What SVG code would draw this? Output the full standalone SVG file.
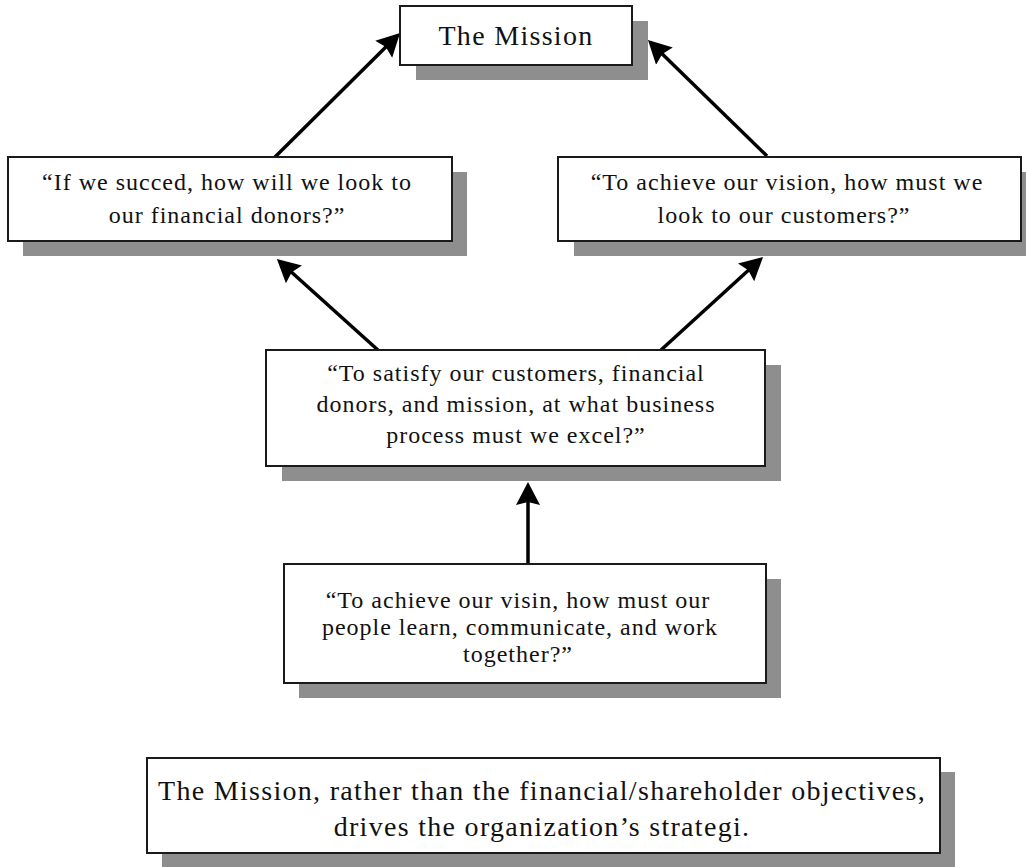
<svg xmlns="http://www.w3.org/2000/svg" width="1026" height="867" viewBox="0 0 1026 867">
  <style>
    .shadow { fill: #8e8e8e; }
    .box { fill: #ffffff; stroke: #1a1a1a; stroke-width: 2; }
    .txt { font-family: "Liberation Serif", "Times New Roman", serif; font-size: 24px; letter-spacing: 1px; fill: #111111; text-anchor: middle; }
    .big { font-size: 28px; letter-spacing: 1.3px; }
    .conn { stroke: #000000; stroke-width: 3.5; fill: none; marker-end: url(#head); }
  </style>
  <defs>
    <marker id="head" markerUnits="userSpaceOnUse" markerWidth="26" markerHeight="26" viewBox="0 -13 26 26" refX="8" refY="0" orient="auto">
      <path d="M0,-12 L23,0 L0,12 L3,0 Z" fill="#000000"/>
    </marker>
  </defs>
  <rect width="1026" height="867" fill="#ffffff"/>

  <!-- connectors -->
  <g id="connectors">
    <line class="conn" x1="275" y1="157" x2="389.4" y2="43.6"/>
    <line class="conn" x1="767" y1="156" x2="658.7" y2="50.5"/>
    <line class="conn" x1="379" y1="351" x2="288" y2="269"/>
    <line class="conn" x1="661" y1="350" x2="752" y2="267"/>
    <line class="conn" x1="528" y1="565" x2="528" y2="497"/>
  </g>

  <!-- top: mission -->
  <g id="mission">
    <rect class="shadow" x="416" y="21" width="232" height="59"/>
    <rect class="box" x="400" y="6" width="232" height="59"/>
    <text class="txt big" x="516" y="45">The Mission</text>
  </g>

  <!-- financial perspective -->
  <g id="financial">
    <rect class="shadow" x="23" y="172" width="444" height="84"/>
    <rect class="box" x="8" y="157" width="444" height="84"/>
    <text class="txt" x="227" y="190">“If we succed, how will we look to</text>
    <text class="txt" x="227" y="223">our financial donors?”</text>
  </g>

  <!-- customer perspective -->
  <g id="customer">
    <rect class="shadow" x="574" y="172" width="463" height="84"/>
    <rect class="box" x="558" y="157" width="463" height="84"/>
    <text class="txt" x="787" y="190">“To achieve our vision, how must we</text>
    <text class="txt" x="784" y="223">look to our customers?”</text>
  </g>

  <!-- internal business process -->
  <g id="process">
    <rect class="shadow" x="282" y="365" width="499" height="116"/>
    <rect class="box" x="266" y="350" width="499" height="116"/>
    <text class="txt" x="516" y="381">“To satisfy our customers, financial</text>
    <text class="txt" x="516" y="412">donors, and mission, at what business</text>
    <text class="txt" x="516" y="443">process must we excel?”</text>
  </g>

  <!-- learning and growth -->
  <g id="learning">
    <rect class="shadow" x="299" y="579" width="482" height="119"/>
    <rect class="box" x="284" y="564" width="482" height="119"/>
    <text class="txt" x="518" y="608">“To achieve our visin, how must our</text>
    <text class="txt" x="520" y="635">people learn, communicate, and work</text>
    <text class="txt" x="518" y="662">together?”</text>
  </g>

  <!-- summary note -->
  <g id="note">
    <rect class="shadow" x="162" y="772" width="793" height="96"/>
    <rect class="box" x="147" y="758" width="793" height="95"/>
    <text class="txt big" x="542" y="800">The Mission, rather than the financial/shareholder objectives,</text>
    <text class="txt big" x="542" y="836">drives the organization’s strategi.</text>
  </g>
</svg>
